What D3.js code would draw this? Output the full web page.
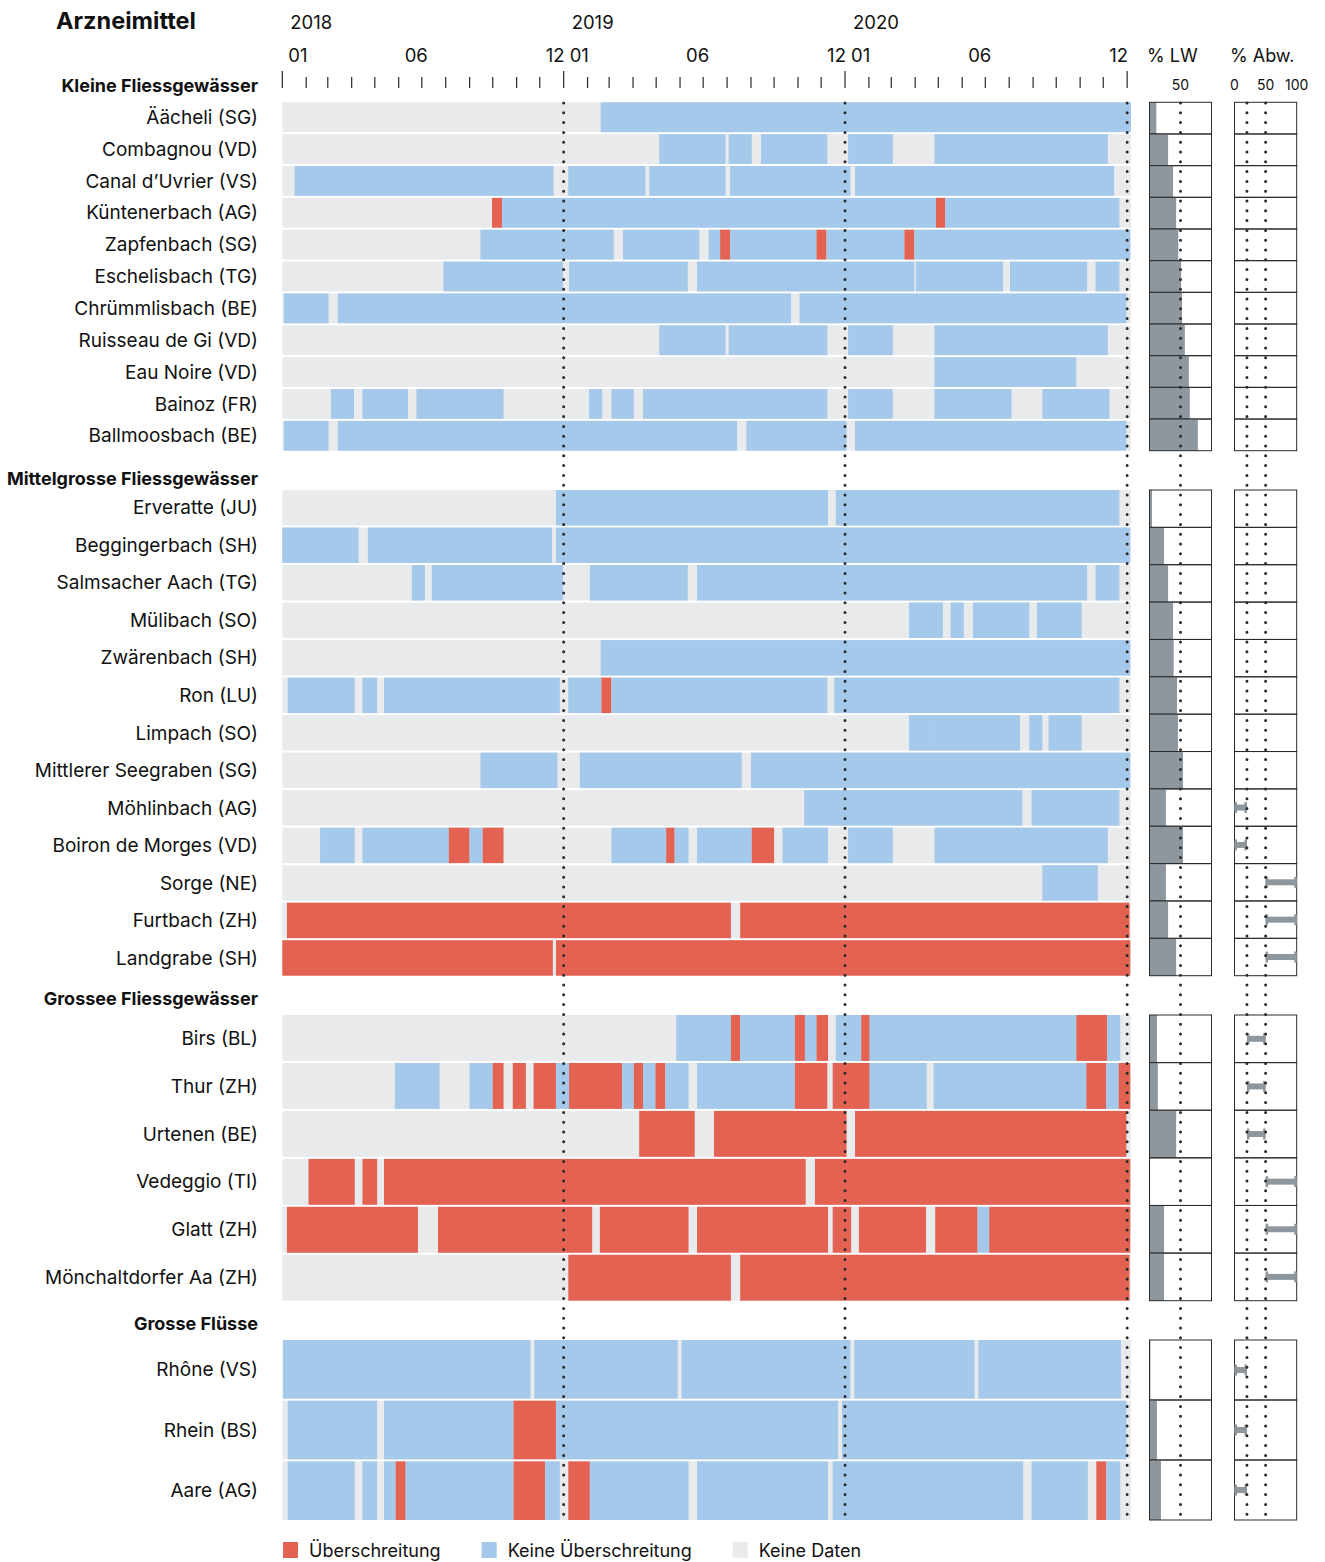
<!DOCTYPE html>
<html>
<head>
<meta charset="utf-8">
<script src="https://cdn.jsdelivr.net/npm/d3@7"></script>
<style>
  body { margin: 0; background: #fff; }
  svg text { font-family: Inter, "Noto Sans", sans-serif; fill: #111; }
</style>
</head>
<body>
<svg id="chart" width="1325" height="1562"></svg>
<script>
// ---- data ----
const sectionNames = ["Kleine Fliessgewässer", "Mittelgrosse Fliessgewässer", "Grossee Fliessgewässer", "Grosse Flüsse"];

const stationNames = [
  "Äächeli (SG)", "Combagnou (VD)", "Canal d’Uvrier (VS)", "Küntenerbach (AG)", "Zapfenbach (SG)", "Eschelisbach (TG)",
  "Chrümmlisbach (BE)", "Ruisseau de Gi (VD)", "Eau Noire (VD)", "Bainoz (FR)", "Ballmoosbach (BE)",
  "Erveratte (JU)", "Beggingerbach (SH)", "Salmsacher Aach (TG)", "Mülibach (SO)", "Zwärenbach (SH)", "Ron (LU)",
  "Limpach (SO)", "Mittlerer Seegraben (SG)", "Möhlinbach (AG)", "Boiron de Morges (VD)", "Sorge (NE)", "Furtbach (ZH)", "Landgrabe (SH)",
  "Birs (BL)", "Thur (ZH)", "Urtenen (BE)", "Vedeggio (TI)", "Glatt (ZH)", "Mönchaltdorfer Aa (ZH)",
  "Rhône (VS)", "Rhein (BS)", "Aare (AG)"
];
const stationSection = [0,0,0,0,0,0,0,0,0,0,0, 1,1,1,1,1,1,1,1,1,1,1,1,1, 2,2,2,2,2,2, 3,3,3];

// % LW
const lwShare = [11, 30, 38, 43, 46.5, 51, 52.5, 57, 63.5, 65, 78,
  4, 23.5, 30, 38, 39, 44.5, 46, 54, 26.5, 54, 26.5, 30, 43,
  12, 13.5, 43, 1, 23.5, 23.5,
  1.5, 12, 18.5];

// % Abw. class ranges
const abwRange = [null,null,null,null,null,null,null,null,null,null,null,
  null,null,null,null,null,null,null,null,[0,20],[0,20],[50,100],[50,100],[50,100],
  [20,50],[20,50],[20,50],[50,100],[50,100],[50,100],
  [0,20],[0,20],[0,20]];

// sample periods: [start, end, status]  r = Überschreitung, b = keine Überschreitung
const samples = [
  [["2019-02-18","2021-01-06","b"]],
  [["2019-05-05","2019-07-30","b"],["2019-08-03","2019-09-02","b"],["2019-09-14","2019-12-09","b"],["2020-01-05","2020-03-03","b"],["2020-04-26","2020-12-07","b"]],
  [["2018-01-17","2018-12-19","b"],["2019-01-07","2019-04-17","b"],["2019-04-22","2019-07-30","b"],["2019-08-05","2020-01-08","b"],["2020-01-14","2020-12-15","b"]],
  [["2018-09-30","2018-10-13","r"],["2018-10-13","2020-04-28","b"],["2020-04-28","2020-05-10","r"],["2020-05-10","2020-12-22","b"]],
  [["2018-09-15","2019-03-07","b"],["2019-03-19","2019-06-26","b"],["2019-07-08","2019-07-23","b"],["2019-07-23","2019-08-05","r"],["2019-08-05","2019-11-25","b"],["2019-11-25","2019-12-08","r"],["2019-12-08","2020-03-18","b"],["2020-03-18","2020-03-31","r"],["2020-03-31","2021-01-05","b"]],
  [["2018-07-29","2018-12-31","b"],["2019-01-08","2019-06-11","b"],["2019-06-23","2020-03-31","b"],["2020-04-02","2020-07-24","b"],["2020-08-02","2020-11-10","b"],["2020-11-21","2020-12-22","b"]],
  [["2018-01-03","2018-03-02","b"],["2018-03-14","2019-10-23","b"],["2019-11-03","2020-12-31","b"]],
  [["2019-05-05","2019-07-30","b"],["2019-08-03","2019-12-09","b"],["2020-01-05","2020-03-03","b"],["2020-04-26","2020-12-07","b"]],
  [["2020-04-26","2020-10-27","b"]],
  [["2018-03-05","2018-04-04","b"],["2018-04-15","2018-06-13","b"],["2018-06-24","2018-10-15","b"],["2019-02-03","2019-02-20","b"],["2019-03-04","2019-04-02","b"],["2019-04-14","2019-12-09","b"],["2020-01-05","2020-03-03","b"],["2020-04-26","2020-08-04","b"],["2020-09-13","2020-12-09","b"]],
  [["2018-01-03","2018-03-02","b"],["2018-03-14","2019-08-14","b"],["2019-08-26","2020-01-03","b"],["2020-01-14","2020-12-31","b"]],

  [["2018-12-22","2019-12-10","b"],["2019-12-20","2020-12-22","b"]],
  [["2018-01-01","2018-04-10","b"],["2018-04-22","2018-12-17","b"],["2018-12-22","2021-01-05","b"]],
  [["2018-06-18","2018-07-05","b"],["2018-07-14","2018-12-31","b"],["2019-02-04","2019-06-11","b"],["2019-06-23","2020-11-10","b"],["2020-11-21","2020-12-22","b"]],
  [["2020-03-24","2020-05-07","b"],["2020-05-17","2020-06-03","b"],["2020-06-15","2020-08-27","b"],["2020-09-06","2020-11-03","b"]],
  [["2019-02-18","2021-01-05","b"]],
  [["2018-01-08","2018-04-05","b"],["2018-04-15","2018-05-04","b"],["2018-05-13","2018-12-27","b"],["2019-01-07","2019-02-19","b"],["2019-02-19","2019-03-04","r"],["2019-03-04","2019-12-09","b"],["2019-12-18","2020-12-22","b"]],
  [["2020-03-24","2020-04-23","b"],["2020-04-23","2020-08-15","b"],["2020-08-27","2020-09-13","b"],["2020-09-21","2020-11-03","b"]],
  [["2018-09-15","2018-12-24","b"],["2019-01-22","2019-08-20","b"],["2019-09-01","2021-01-05","b"]],
  [["2019-11-09","2020-08-18","b"],["2020-08-30","2020-12-22","b"]],
  [["2018-02-19","2018-04-05","b"],["2018-04-15","2018-08-05","b"],["2018-08-05","2018-09-01","r"],["2018-09-01","2018-09-18","b"],["2018-09-18","2018-10-15","r"],["2019-03-04","2019-05-14","b"],["2019-05-14","2019-05-25","r"],["2019-05-25","2019-06-12","b"],["2019-06-23","2019-09-02","b"],["2019-09-02","2019-10-01","r"],["2019-10-12","2019-12-10","b"],["2020-01-05","2020-03-03","b"],["2020-04-26","2020-12-07","b"]],
  [["2020-09-13","2020-11-24","b"]],
  [["2018-01-07","2019-08-06","r"],["2019-08-18","2021-01-04","r"]],
  [["2018-01-01","2018-12-18","r"],["2018-12-22","2021-01-05","r"]],

  [["2019-05-27","2019-08-06","b"],["2019-08-06","2019-08-18","r"],["2019-08-18","2019-10-28","b"],["2019-10-28","2019-11-10","r"],["2019-11-10","2019-11-25","b"],["2019-11-25","2019-12-10","r"],["2019-12-20","2020-01-22","b"],["2020-01-22","2020-02-02","r"],["2020-02-02","2020-10-27","b"],["2020-10-27","2020-12-06","r"],["2020-12-06","2020-12-23","b"]],
  [["2018-05-27","2018-07-24","b"],["2018-09-01","2018-10-01","b"],["2018-10-01","2018-10-15","r"],["2018-10-27","2018-11-13","r"],["2018-11-23","2018-12-22","r"],["2018-12-22","2019-01-08","b"],["2019-01-08","2019-03-18","r"],["2019-03-18","2019-04-02","b"],["2019-04-02","2019-04-14","r"],["2019-04-14","2019-04-30","b"],["2019-04-30","2019-05-13","r"],["2019-05-13","2019-06-12","b"],["2019-06-23","2019-10-28","b"],["2019-10-28","2019-12-09","r"],["2019-12-16","2020-02-02","r"],["2020-02-02","2020-04-16","b"],["2020-04-25","2020-11-09","b"],["2020-11-09","2020-12-05","r"],["2020-12-05","2020-12-21","b"],["2020-12-21","2021-01-05","r"]],
  [["2019-04-09","2019-06-20","r"],["2019-07-15","2020-01-03","r"],["2020-01-14","2020-12-31","r"]],
  [["2018-02-04","2018-04-05","r"],["2018-04-15","2018-05-04","r"],["2018-05-13","2019-11-11","r"],["2019-11-23","2021-01-05","r"]],
  [["2018-01-07","2018-06-26","r"],["2018-07-22","2019-02-07","r"],["2019-02-17","2019-06-12","r"],["2019-06-23","2019-12-10","r"],["2019-12-16","2020-01-09","r"],["2020-01-19","2020-04-15","r"],["2020-04-27","2020-06-21","r"],["2020-06-21","2020-07-06","b"],["2020-07-06","2021-01-05","r"]],
  [["2019-01-07","2019-08-06","r"],["2019-08-18","2021-01-04","r"]],

  [["2018-01-02","2018-11-19","b"],["2018-11-24","2019-05-29","b"],["2019-06-03","2020-01-08","b"],["2020-01-13","2020-06-17","b"],["2020-06-22","2020-12-24","b"]],
  [["2018-01-08","2018-05-04","b"],["2018-05-13","2018-10-28","b"],["2018-10-28","2018-12-22","r"],["2018-12-22","2019-12-23","b"],["2019-12-28","2020-12-31","b"]],
  [["2018-01-08","2018-04-05","b"],["2018-04-15","2018-05-04","b"],["2018-05-13","2018-05-28","b"],["2018-05-28","2018-06-10","r"],["2018-06-10","2018-10-28","b"],["2018-10-28","2018-12-08","r"],["2018-12-08","2018-12-27","b"],["2019-01-07","2019-02-04","r"],["2019-02-04","2019-06-12","b"],["2019-06-23","2019-12-10","b"],["2019-12-16","2020-08-19","b"],["2020-08-30","2020-11-11","b"],["2020-11-22","2020-12-05","r"],["2020-12-05","2020-12-23","b"]]
];

const years = [2018, 2019, 2020];
const labeledMonths = [0, 5, 11];          // 01, 06, 12
const lwTicks = [50];
const abwTicks = [0, 50, 100];
const abwGuides = [20, 50];
const legendKeys = ["r", "b", "n"];
const legendLabels = ["Überschreitung", "Keine Überschreitung", "Keine Daten"];

// ---- layout ----
const colors = { r: "#e36252", b: "#a4c9eb", n: "#e9eaec" };
const panelGrey = "#8f979e";
const ink = "#2a2a2a";
const sectionBox = [[102.3, 450.7], [490, 975.7], [1015, 1300.7], [1340, 1520]];
const headerY = [86, 479, 999, 1324];

const parse = d3.utcParse("%Y-%m-%d");
const svg = d3.select("#chart");

const x = d3.scaleUtc()
  .domain([parse("2018-01-01"), parse("2021-01-06")])
  .range([282.3, 1131]);
const lw = d3.scaleLinear().domain([0, 100]).range([1149.5, 1211.5]);
const abw = d3.scaleLinear().domain([0, 100]).range([1234.5, 1296.7]);

// title
svg.append("text").attr("x", 56).attr("y", 29)
  .style("font-size", "23.5px").style("font-weight", 700).text("Arzneimittel");

// year + month labels, ticks
const gAxis = svg.append("g");
years.forEach(yr => {
  gAxis.append("text")
    .attr("x", x(Date.UTC(yr, 0, 1)) + 8).attr("y", 29)
    .style("font-size", "18.5px").text(yr);
  labeledMonths.forEach(m => {
    gAxis.append("text")
      .attr("x", x(Date.UTC(yr, m, 1)) + 6).attr("y", 62)
      .style("font-size", "18.5px").text(d3.format("02")(m + 1));
  });
});
const months = d3.utcMonth.range(parse("2018-01-01"), parse("2021-01-02"));
gAxis.selectAll("line.tick").data(months).enter().append("line")
  .attr("x1", d => x(d)).attr("x2", d => x(d))
  .attr("y1", d => d.getUTCMonth() === 0 ? 71 : 77).attr("y2", 88)
  .attr("stroke", ink).attr("stroke-width", 1.2);

// panel headers
svg.append("text").attr("x", 1147).attr("y", 62).style("font-size", "18px").text("% LW");
svg.append("text").attr("x", 1230).attr("y", 62).style("font-size", "18px").text("% Abw.");
lwTicks.forEach(t => svg.append("text").attr("x", lw(t)).attr("y", 90)
  .attr("text-anchor", "middle").style("font-size", "14px").text(t));
abwTicks.forEach(t => svg.append("text").attr("x", abw(t)).attr("y", 90)
  .attr("text-anchor", "middle").style("font-size", "14px").text(t));

const gRows = svg.append("g");
const gPanel = svg.append("g");

sectionNames.forEach((sec, si) => {
  const rows = stationNames.map((n, i) => i).filter(i => stationSection[i] === si);
  const [top, bottom] = sectionBox[si];
  const pitch = (bottom - top) / rows.length;
  const y = d3.scaleBand().domain(rows).range([top, bottom]).paddingInner(2 / pitch);

  svg.append("text")
    .attr("x", 258).attr("y", headerY[si]).attr("dy", "0.35em")
    .attr("text-anchor", "end")
    .style("font-size", "18px").style("font-weight", 700).text(sec);

  rows.forEach((i, k) => {
    const g = gRows.append("g");
    g.append("rect")
      .attr("x", x.range()[0]).attr("y", y(i))
      .attr("width", x.range()[1] - x.range()[0]).attr("height", y.bandwidth())
      .attr("fill", colors.n);
    g.selectAll("rect.seg").data(samples[i]).enter().append("rect")
      .attr("class", "seg")
      .attr("x", d => x(parse(d[0])))
      .attr("width", d => x(parse(d[1])) - x(parse(d[0])))
      .attr("y", y(i)).attr("height", y.bandwidth())
      .attr("fill", d => colors[d[2]]);
    g.append("text")
      .attr("x", 258).attr("y", y(i) + y.bandwidth() / 2).attr("dy", "0.35em")
      .attr("text-anchor", "end").style("font-size", "19px")
      .text(stationNames[i]);

    // side panels
    const by = top + k * pitch;
    gPanel.append("rect")
      .attr("x", lw(0)).attr("y", by)
      .attr("width", lw(lwShare[i]) - lw(0)).attr("height", pitch)
      .attr("fill", panelGrey);
    gPanel.append("rect")
      .attr("x", lw(0)).attr("y", by).attr("width", lw(100) - lw(0)).attr("height", pitch)
      .attr("fill", "none").attr("stroke", ink).attr("stroke-width", 1);
    gPanel.append("rect")
      .attr("x", abw(0)).attr("y", by).attr("width", abw(100) - abw(0)).attr("height", pitch)
      .attr("fill", "none").attr("stroke", ink).attr("stroke-width", 1);
    const r = abwRange[i];
    if (r) {
      const cy = by + pitch / 2;
      gPanel.append("rect").attr("x", abw(r[0])).attr("y", cy - 3)
        .attr("width", abw(r[1]) - abw(r[0])).attr("height", 6).attr("fill", panelGrey);
      [abw(r[0]), abw(r[1]) - 2.5].forEach(cx => gPanel.append("rect")
        .attr("x", cx).attr("y", cy - 5.5).attr("width", 2.5).attr("height", 11)
        .attr("fill", panelGrey));
    }
  });
});

// dotted guides
const dotted = (xx, y1, y2) => svg.append("line")
  .attr("x1", xx).attr("x2", xx).attr("y1", y1).attr("y2", y2)
  .attr("stroke", ink).attr("stroke-width", 3)
  .attr("stroke-linecap", "round").attr("stroke-dasharray", "0 9.8");
[2019, 2020, 2021].forEach(yr => dotted(x(Date.UTC(yr, 0, 1)), 103, 1522));
lwTicks.forEach(t => dotted(lw(t), 103, 1524));
abwGuides.forEach(t => dotted(abw(t), 103, 1524));

// legend
let lx = 283;
legendKeys.forEach((k, j) => {
  svg.append("rect").attr("x", lx).attr("y", 1542).attr("width", 15).attr("height", 16)
    .attr("fill", colors[k]);
  const t = svg.append("text").attr("x", lx + 26).attr("y", 1557)
    .style("font-size", "18px").text(legendLabels[j]);
  lx = lx + 26 + t.node().getComputedTextLength() + 41;
});
</script>
</body>
</html>
